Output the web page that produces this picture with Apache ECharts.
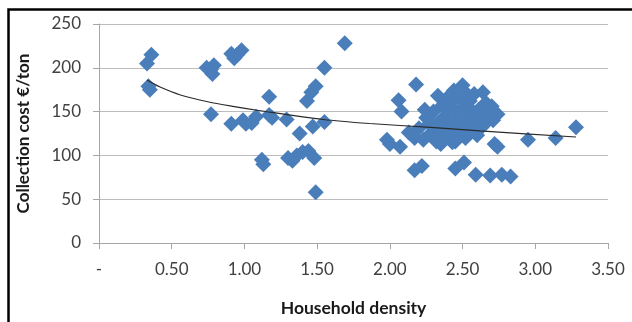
<!DOCTYPE html>
<html>
<head>
<meta charset="utf-8">
<script src="https://cdn.jsdelivr.net/npm/echarts@6/dist/echarts.min.js"></script>
<style>
html,body{margin:0;padding:0;background:#fff;}
#c{width:632px;height:322px;}
</style>
</head>
<body>
<div id="c"></div>
<script>
// Household density (x) and collection cost €/ton (y)
const householdDensity = [
  0.36,0.33,0.34,0.35,0.74,0.77,0.79,0.78,0.77,0.91,0.93,0.95,0.98,
  0.91,0.99,1.01,1.05,1.08,1.17,1.17,1.19,1.12,1.13,1.29,1.38,1.30,1.33,
  1.36,1.40,1.44,1.48,1.49,1.43,1.46,1.49,1.55,1.47,1.55,1.69,
  1.98,2.00,2.07,2.06,2.08,2.18,2.17,2.22,2.13,2.17,2.20,2.24,2.25,2.27,
  2.28,2.30,2.33,2.35,2.35,2.37,2.38,2.40,2.41,2.42,2.44,2.45,2.45,2.47,
  2.48,2.48,2.50,2.50,2.51,2.52,2.52,2.54,2.55,2.56,2.58,2.58,2.59,2.60,
  2.61,2.63,2.64,2.65,2.66,2.69,2.70,2.71,2.74,2.72,2.74,2.77,2.83,2.95,
  3.14,3.28,2.23,2.32,2.43,
  2.30,2.36,2.39,2.44,2.46,2.53,2.57,2.62,2.66,2.68,2.33,2.27,2.50,2.43
];
const collectionCost = [
  215,205,179,175,200,198,203,193,147,216,211,215,220,
  136,140,136,137,144,167,146,143,95,90,141,125,97,94,
  100,104,105,97,58,162,172,179,200,133,138,228,
  118,113,110,163,150,181,83,88,126,120,131,152,143,136,
  125,133,168,113,140,128,119,148,135,160,174,116,85,142,
  128,165,180,155,92,120,137,148,162,127,170,140,78,123,
  152,132,172,145,160,77,156,140,147,113,110,78,76,118,
  120,132,118,116,115,
  150,157,165,152,132,170,150,145,137,150,124,145,140,125
];
// Logarithmic trendline as drawn in the picture
const trendDensity = [0.33,0.42,0.56,0.74,0.92,1.11,1.54,1.86,2.28,2.62,3.28];
const trendCost    = [186,178,169,161.5,156,151,141,136.4,132,128,121];

const xTickLabels = ['-','0.50','1.00','1.50','2.00','2.50','3.00','3.50'];
const yTickLabels = ['0','50','100','150','200','250'];

const points = householdDensity.map((x,i)=>[x, collectionCost[i]]);
const trend = trendDensity.map((x,i)=>[x, trendCost[i]]);

const FONT = 'Lato';
const chart = echarts.init(document.getElementById('c'));
chart.setOption({
  backgroundColor:'#fff',
  animation:false,
  grid:{left:99, top:24, width:509, height:225, containLabel:false},
  xAxis:{
    type:'value', min:0, max:3.5, interval:0.5,
    name:'Household density', nameLocation:'middle', nameGap:56,
    nameTextStyle:{fontFamily:FONT, fontSize:17.5, fontWeight:'bold', color:'#1a1a1a'},
    axisLine:{show:true, onZero:false, lineStyle:{color:'#a6a6a6', width:1}},
    axisTick:{show:true, length:6, lineStyle:{color:'#a6a6a6'}},
    axisLabel:{margin:18, fontFamily:FONT, fontSize:17, color:'#404040',
      formatter:(v)=>xTickLabels[Math.round(v/0.5)]},
    splitLine:{show:false}
  },
  yAxis:{
    type:'value', min:0, max:250, interval:50,
    name:'Collection cost €/ton', nameLocation:'middle', nameGap:67,
    nameTextStyle:{fontFamily:FONT, fontSize:17, fontWeight:'bold', color:'#1a1a1a'},
    axisLine:{show:true, lineStyle:{color:'#a6a6a6', width:1}},
    axisTick:{show:true, length:6, lineStyle:{color:'#a6a6a6'}},
    axisLabel:{margin:18, fontFamily:FONT, fontSize:17, color:'#404040',
      formatter:(v)=>yTickLabels[Math.round(v/50)]},
    splitLine:{show:true, lineStyle:{color:'#bcbcbc', width:1}}
  },
  series:[
    {type:'scatter', data:points, symbol:'diamond', symbolSize:16,
     itemStyle:{color:'#4a7ebb', opacity:1}, z:2},
    {type:'line', data:trend, showSymbol:false, smooth:0.3,
     lineStyle:{color:'#2a2a2a', width:1.2}, z:3}
  ],
  graphic:[
    {type:'polyline', silent:true, z:10,
     shape:{points:[[8.5,322],[8.5,9.5],[632,9.5]]},
     style:{stroke:'#000', lineWidth:2.5, fill:null}}
  ]
});
</script>
</body>
</html>
